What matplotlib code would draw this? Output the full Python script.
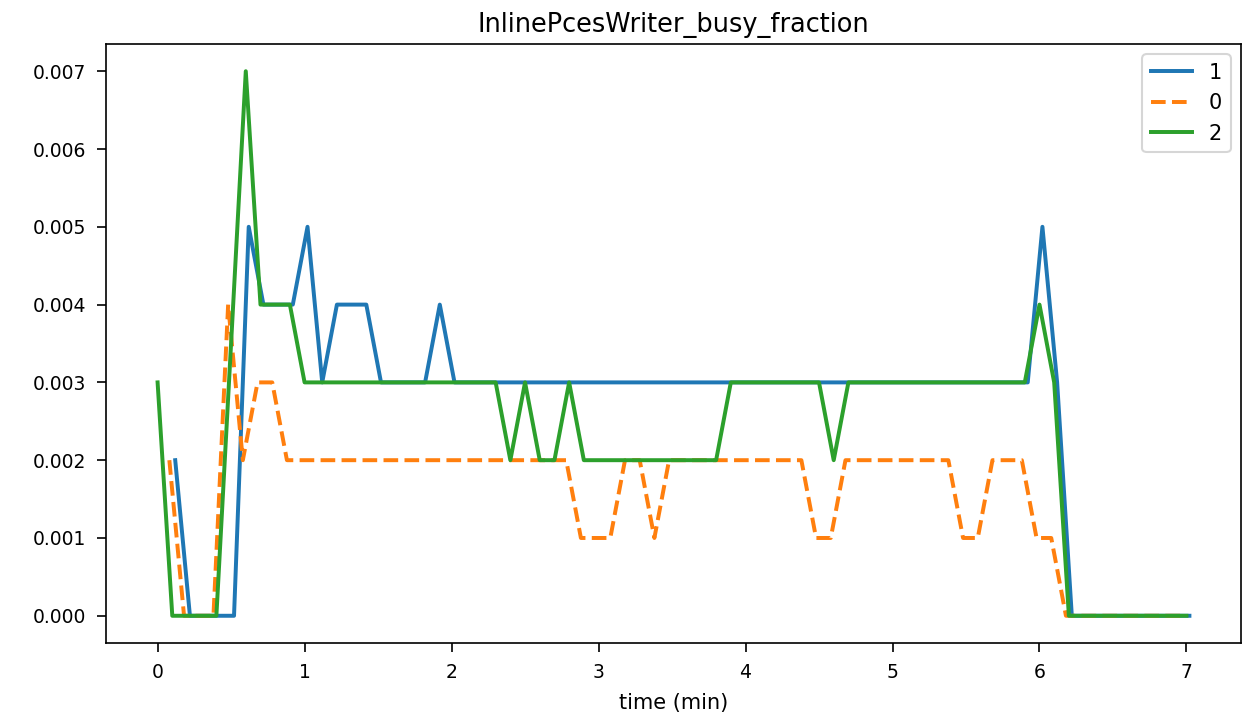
import numpy as np
import matplotlib
matplotlib.use("Agg")
import matplotlib.pyplot as plt

# series "1" (blue), sampled every 0.1 min starting at 0.12
t1_start, t1_step = 0.12, 0.1
vals_1 = [2, 0, 0, 0, 0, 5, 4, 4, 4, 5, 3, 4, 4, 4, 3, 3, 3, 3, 4] + [3] * 40 + [5, 3] + [0] * 9

# series "0" (orange dashed), sampled every 0.1 min starting at 0.08
t0_start, t0_step = 0.08, 0.1
vals_0 = ([2, 0, 0, 0, 4, 2, 3, 3, 2] + [2] * 19 + [1, 1, 1, 2, 2, 1] + [2] * 10
          + [1, 1] + [2] * 8 + [1, 1, 2, 2, 2, 1, 1] + [0] * 9)

# series "2" (green), sampled every 0.1 min starting at 0.0
t2_start, t2_step = 0.0, 0.1
vals_2 = ([3, 0, 0, 0, 0, 3.5, 7, 4, 4, 4, 3] + [3] * 13 + [2, 3, 2, 2, 3] + [2] * 10
          + [3] * 7 + [2] + [3] * 13 + [4, 3] + [0] * 9)

labels = ["1", "0", "2"]
title = "InlinePcesWriter_busy_fraction"
xlabel = "time (min)"

def times(start, step, n):
    return start + step * np.arange(n)

W, H, DPI = 1243, 718, 150
fig = plt.figure(figsize=(W / DPI, H / DPI), dpi=DPI)
ax = fig.add_axes([106 / W, 1 - 643 / H, (1241 - 106) / W, (643 - 44) / H])

lw = 1.9
ax.plot(times(t1_start, t1_step, len(vals_1)), np.array(vals_1) / 1000.0,
        color="#1f77b4", lw=lw, label=labels[0])
ax.plot(times(t0_start, t0_step, len(vals_0)), np.array(vals_0) / 1000.0,
        color="#ff7f0e", lw=lw, ls="--", label=labels[1])
ax.plot(times(t2_start, t2_step, len(vals_2)), np.array(vals_2) / 1000.0,
        color="#2ca02c", lw=lw, label=labels[2])

ax.tick_params(labelsize=9, length=4.2, pad=5.5)
ax.set_title(title, fontsize=12.3)
ax.set_xlabel(xlabel, fontsize=10, labelpad=5)
ax.legend(loc="upper right", fontsize=10)

fig.savefig("out.png", dpi=DPI)
